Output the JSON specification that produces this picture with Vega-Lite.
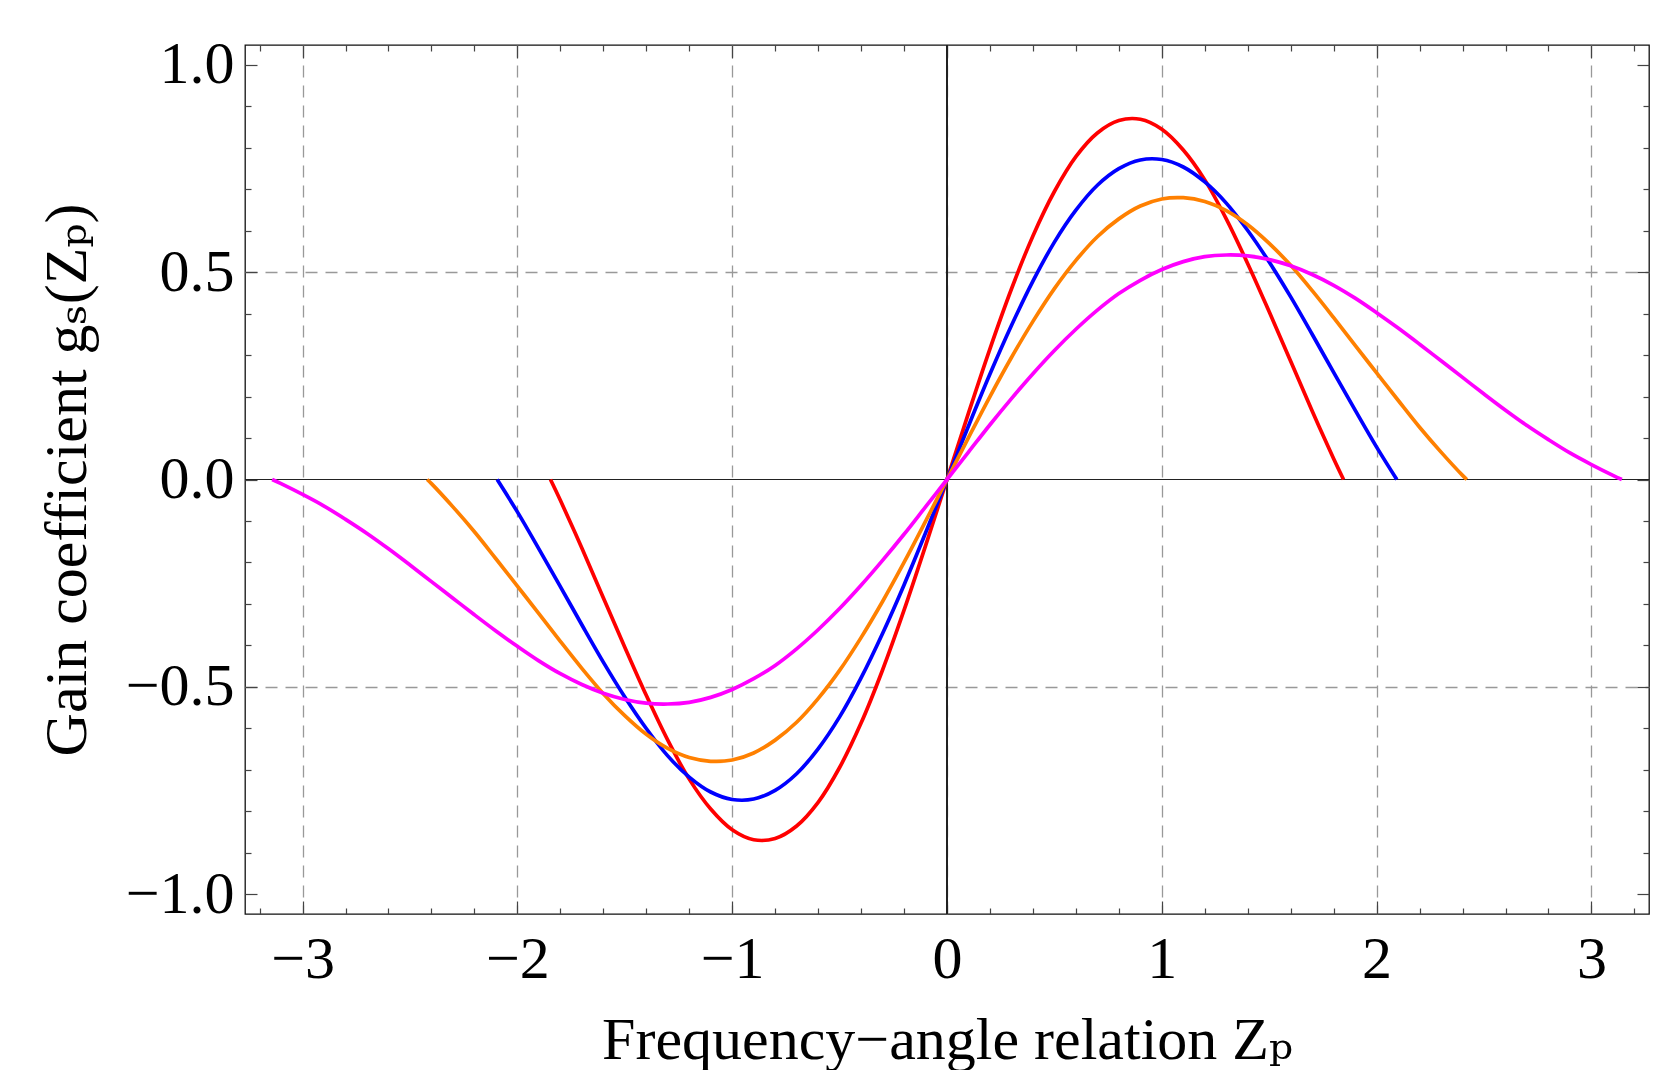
{
  "$schema": "https://vega.github.io/schema/vega-lite/v6.json",
  "width": 1404,
  "height": 869,
  "autosize": {"type": "none"},
  "padding": {"left": 245, "top": 45, "right": 9, "bottom": 156},
  "background": "white",
  "config": {
    "view": {"stroke": "#111", "strokeWidth": 1.3},
    "axis": {"domain": false, "tickColor": "#444", "tickWidth": 1.2}
  },
  "data": {
    "values": [
      {"c":"A","x":-1.846,"y":0},{"c":"A","x":-1.8,"y":-0.05},{"c":"A","x":-1.7,"y":-0.165},{"c":"A","x":-1.6,"y":-0.285},{"c":"A","x":-1.5,"y":-0.404},{"c":"A","x":-1.4,"y":-0.52},{"c":"A","x":-1.3,"y":-0.628},{"c":"A","x":-1.2,"y":-0.722},{"c":"A","x":-1.1,"y":-0.794},{"c":"A","x":-1.0,"y":-0.844},{"c":"A","x":-0.9,"y":-0.868},{"c":"A","x":-0.8,"y":-0.865},{"c":"A","x":-0.7,"y":-0.835},{"c":"A","x":-0.6,"y":-0.778},{"c":"A","x":-0.5,"y":-0.694},{"c":"A","x":-0.4,"y":-0.587},{"c":"A","x":-0.3,"y":-0.459},{"c":"A","x":-0.2,"y":-0.315},{"c":"A","x":-0.1,"y":-0.16},{"c":"A","x":0,"y":0},{"c":"A","x":0.1,"y":0.16},{"c":"A","x":0.2,"y":0.315},{"c":"A","x":0.3,"y":0.459},{"c":"A","x":0.4,"y":0.587},{"c":"A","x":0.5,"y":0.694},{"c":"A","x":0.6,"y":0.778},{"c":"A","x":0.7,"y":0.835},{"c":"A","x":0.8,"y":0.865},{"c":"A","x":0.9,"y":0.868},{"c":"A","x":1.0,"y":0.844},{"c":"A","x":1.1,"y":0.794},{"c":"A","x":1.2,"y":0.722},{"c":"A","x":1.3,"y":0.628},{"c":"A","x":1.4,"y":0.52},{"c":"A","x":1.5,"y":0.404},{"c":"A","x":1.6,"y":0.285},{"c":"A","x":1.7,"y":0.165},{"c":"A","x":1.8,"y":0.05},{"c":"A","x":1.846,"y":0},
      {"c":"B","x":-2.094,"y":0},{"c":"B","x":-2.0,"y":-0.078},{"c":"B","x":-1.9,"y":-0.167},{"c":"B","x":-1.8,"y":-0.258},{"c":"B","x":-1.7,"y":-0.35},{"c":"B","x":-1.6,"y":-0.44},{"c":"B","x":-1.5,"y":-0.524},{"c":"B","x":-1.4,"y":-0.6},{"c":"B","x":-1.3,"y":-0.666},{"c":"B","x":-1.2,"y":-0.717},{"c":"B","x":-1.1,"y":-0.753},{"c":"B","x":-1.0,"y":-0.771},{"c":"B","x":-0.9,"y":-0.77},{"c":"B","x":-0.8,"y":-0.749},{"c":"B","x":-0.7,"y":-0.709},{"c":"B","x":-0.6,"y":-0.649},{"c":"B","x":-0.5,"y":-0.572},{"c":"B","x":-0.4,"y":-0.478},{"c":"B","x":-0.3,"y":-0.371},{"c":"B","x":-0.2,"y":-0.254},{"c":"B","x":-0.1,"y":-0.129},{"c":"B","x":0,"y":0},{"c":"B","x":0.1,"y":0.129},{"c":"B","x":0.2,"y":0.254},{"c":"B","x":0.3,"y":0.371},{"c":"B","x":0.4,"y":0.478},{"c":"B","x":0.5,"y":0.572},{"c":"B","x":0.6,"y":0.649},{"c":"B","x":0.7,"y":0.709},{"c":"B","x":0.8,"y":0.749},{"c":"B","x":0.9,"y":0.77},{"c":"B","x":1.0,"y":0.771},{"c":"B","x":1.1,"y":0.753},{"c":"B","x":1.2,"y":0.717},{"c":"B","x":1.3,"y":0.666},{"c":"B","x":1.4,"y":0.6},{"c":"B","x":1.5,"y":0.524},{"c":"B","x":1.6,"y":0.44},{"c":"B","x":1.7,"y":0.35},{"c":"B","x":1.8,"y":0.258},{"c":"B","x":1.9,"y":0.167},{"c":"B","x":2.0,"y":0.078},{"c":"B","x":2.094,"y":0},
      {"c":"C","x":-2.42,"y":0},{"c":"C","x":-2.4,"y":-0.01},{"c":"C","x":-2.3,"y":-0.066},{"c":"C","x":-2.2,"y":-0.126},{"c":"C","x":-2.1,"y":-0.191},{"c":"C","x":-2.0,"y":-0.257},{"c":"C","x":-1.9,"y":-0.323},{"c":"C","x":-1.8,"y":-0.39},{"c":"C","x":-1.7,"y":-0.455},{"c":"C","x":-1.6,"y":-0.516},{"c":"C","x":-1.5,"y":-0.569},{"c":"C","x":-1.4,"y":-0.614},{"c":"C","x":-1.3,"y":-0.648},{"c":"C","x":-1.2,"y":-0.67},{"c":"C","x":-1.1,"y":-0.679},{"c":"C","x":-1.0,"y":-0.676},{"c":"C","x":-0.9,"y":-0.659},{"c":"C","x":-0.8,"y":-0.628},{"c":"C","x":-0.7,"y":-0.585},{"c":"C","x":-0.6,"y":-0.528},{"c":"C","x":-0.5,"y":-0.46},{"c":"C","x":-0.4,"y":-0.381},{"c":"C","x":-0.3,"y":-0.294},{"c":"C","x":-0.2,"y":-0.2},{"c":"C","x":-0.1,"y":-0.101},{"c":"C","x":0,"y":0},{"c":"C","x":0.1,"y":0.101},{"c":"C","x":0.2,"y":0.2},{"c":"C","x":0.3,"y":0.294},{"c":"C","x":0.4,"y":0.381},{"c":"C","x":0.5,"y":0.46},{"c":"C","x":0.6,"y":0.528},{"c":"C","x":0.7,"y":0.585},{"c":"C","x":0.8,"y":0.628},{"c":"C","x":0.9,"y":0.659},{"c":"C","x":1.0,"y":0.676},{"c":"C","x":1.1,"y":0.679},{"c":"C","x":1.2,"y":0.67},{"c":"C","x":1.3,"y":0.648},{"c":"C","x":1.4,"y":0.614},{"c":"C","x":1.5,"y":0.569},{"c":"C","x":1.6,"y":0.516},{"c":"C","x":1.7,"y":0.455},{"c":"C","x":1.8,"y":0.39},{"c":"C","x":1.9,"y":0.323},{"c":"C","x":2.0,"y":0.257},{"c":"C","x":2.1,"y":0.191},{"c":"C","x":2.2,"y":0.126},{"c":"C","x":2.3,"y":0.066},{"c":"C","x":2.4,"y":0.01},{"c":"C","x":2.42,"y":0},
      {"c":"D","x":-3.1416,"y":0},{"c":"D","x":-3.1,"y":-0.01},{"c":"D","x":-3.0,"y":-0.036},{"c":"D","x":-2.9,"y":-0.064},{"c":"D","x":-2.8,"y":-0.096},{"c":"D","x":-2.7,"y":-0.13},{"c":"D","x":-2.6,"y":-0.167},{"c":"D","x":-2.5,"y":-0.206},{"c":"D","x":-2.4,"y":-0.246},{"c":"D","x":-2.3,"y":-0.286},{"c":"D","x":-2.2,"y":-0.326},{"c":"D","x":-2.1,"y":-0.365},{"c":"D","x":-2.0,"y":-0.402},{"c":"D","x":-1.9,"y":-0.437},{"c":"D","x":-1.8,"y":-0.468},{"c":"D","x":-1.7,"y":-0.494},{"c":"D","x":-1.6,"y":-0.515},{"c":"D","x":-1.5,"y":-0.53},{"c":"D","x":-1.4,"y":-0.539},{"c":"D","x":-1.3,"y":-0.541},{"c":"D","x":-1.2,"y":-0.537},{"c":"D","x":-1.1,"y":-0.525},{"c":"D","x":-1.0,"y":-0.506},{"c":"D","x":-0.9,"y":-0.48},{"c":"D","x":-0.8,"y":-0.448},{"c":"D","x":-0.7,"y":-0.408},{"c":"D","x":-0.6,"y":-0.362},{"c":"D","x":-0.5,"y":-0.311},{"c":"D","x":-0.4,"y":-0.255},{"c":"D","x":-0.3,"y":-0.195},{"c":"D","x":-0.2,"y":-0.132},{"c":"D","x":-0.1,"y":-0.066},{"c":"D","x":0,"y":0},{"c":"D","x":0.1,"y":0.066},{"c":"D","x":0.2,"y":0.132},{"c":"D","x":0.3,"y":0.195},{"c":"D","x":0.4,"y":0.255},{"c":"D","x":0.5,"y":0.311},{"c":"D","x":0.6,"y":0.362},{"c":"D","x":0.7,"y":0.408},{"c":"D","x":0.8,"y":0.448},{"c":"D","x":0.9,"y":0.48},{"c":"D","x":1.0,"y":0.506},{"c":"D","x":1.1,"y":0.525},{"c":"D","x":1.2,"y":0.537},{"c":"D","x":1.3,"y":0.541},{"c":"D","x":1.4,"y":0.539},{"c":"D","x":1.5,"y":0.53},{"c":"D","x":1.6,"y":0.515},{"c":"D","x":1.7,"y":0.494},{"c":"D","x":1.8,"y":0.468},{"c":"D","x":1.9,"y":0.437},{"c":"D","x":2.0,"y":0.402},{"c":"D","x":2.1,"y":0.365},{"c":"D","x":2.2,"y":0.326},{"c":"D","x":2.3,"y":0.286},{"c":"D","x":2.4,"y":0.246},{"c":"D","x":2.5,"y":0.206},{"c":"D","x":2.6,"y":0.167},{"c":"D","x":2.7,"y":0.13},{"c":"D","x":2.8,"y":0.096},{"c":"D","x":2.9,"y":0.064},{"c":"D","x":3.0,"y":0.036},{"c":"D","x":3.1,"y":0.01},{"c":"D","x":3.1416,"y":0}
    ]
  },
  "resolve": {"axis": {"x": "independent", "y": "independent"}},
  "layer": [
    {
      "mark": {"type": "rule", "color": "#222", "strokeWidth": 1.2},
      "encoding": {
        "x": {"datum": 0, "type": "quantitative",
          "scale": {"domain": [-3.268, 3.268], "nice": false, "zero": false},
          "axis": {"orient": "top", "values": [-3, -2, -1, 0, 1, 2, 3], "labels": false, "grid": false, "title": null, "tickSize": -13}}
      }
    },
    {
      "mark": {"type": "rule", "color": "#222", "strokeWidth": 1.2},
      "encoding": {
        "y": {"datum": 0, "type": "quantitative",
          "scale": {"domain": [-1.047, 1.047], "nice": false, "zero": false},
          "axis": {"orient": "right", "values": [-1, -0.5, 0, 0.5, 1], "labels": false, "grid": false, "title": null, "tickSize": -12}}
      }
    },
    {
      "mark": {"type": "point", "opacity": 0},
      "encoding": {
        "x": {"datum": 0, "type": "quantitative",
          "scale": {"domain": [-3.268, 3.268], "nice": false, "zero": false},
          "axis": {"orient": "bottom", "values": [-3, -2, -1, 0, 1, 2, 3], "labels": false, "grid": false, "title": null, "tickSize": -13}},
        "y": {"datum": 0, "type": "quantitative",
          "scale": {"domain": [-1.047, 1.047], "nice": false, "zero": false},
          "axis": {"orient": "left", "values": [-1, -0.5, 0, 0.5, 1], "labels": false, "grid": false, "title": null, "tickSize": -12}}
      }
    },
    {
      "mark": {"type": "point", "opacity": 0},
      "encoding": {
        "x": {"datum": 0, "type": "quantitative",
          "scale": {"domain": [-3.268, 3.268], "nice": false, "zero": false},
          "axis": {"orient": "bottom", "values": [-3.2, -2.8, -2.6, -2.4, -2.2, -1.8, -1.6, -1.4, -1.2, -0.8, -0.6, -0.4, -0.2, 0.2, 0.4, 0.6, 0.8, 1.2, 1.4, 1.6, 1.8, 2.2, 2.4, 2.6, 2.8, 3.2], "labels": false, "grid": false, "title": null, "tickSize": -6}},
        "y": {"datum": 0, "type": "quantitative",
          "scale": {"domain": [-1.047, 1.047], "nice": false, "zero": false},
          "axis": {"orient": "left", "values": [-0.9, -0.8, -0.7, -0.6, -0.4, -0.3, -0.2, -0.1, 0.1, 0.2, 0.3, 0.4, 0.6, 0.7, 0.8, 0.9], "labels": false, "grid": false, "title": null, "tickSize": -6}}
      }
    },
    {
      "mark": {"type": "point", "opacity": 0},
      "encoding": {
        "x": {"datum": 0, "type": "quantitative",
          "scale": {"domain": [-3.268, 3.268], "nice": false, "zero": false},
          "axis": {"orient": "top", "values": [-3.2, -2.8, -2.6, -2.4, -2.2, -1.8, -1.6, -1.4, -1.2, -0.8, -0.6, -0.4, -0.2, 0.2, 0.4, 0.6, 0.8, 1.2, 1.4, 1.6, 1.8, 2.2, 2.4, 2.6, 2.8, 3.2], "labels": false, "grid": false, "title": null, "tickSize": -6}},
        "y": {"datum": 0, "type": "quantitative",
          "scale": {"domain": [-1.047, 1.047], "nice": false, "zero": false},
          "axis": {"orient": "right", "values": [-0.9, -0.8, -0.7, -0.6, -0.4, -0.3, -0.2, -0.1, 0.1, 0.2, 0.3, 0.4, 0.6, 0.7, 0.8, 0.9], "labels": false, "grid": false, "title": null, "tickSize": -6}}
      }
    },
    {
      "mark": {"type": "point", "opacity": 0},
      "encoding": {
        "y": {"datum": 0, "type": "quantitative",
          "scale": {"domain": [-1.047, 1.047], "nice": false, "zero": false},
          "axis": {"orient": "left", "values": [-0.5, 0.5], "labels": false, "ticks": false, "grid": true, "gridDash": [12, 8], "gridColor": "#999", "gridWidth": 1.3, "title": null}}
      }
    },
    {
      "mark": {"type": "line", "strokeWidth": 3.7, "interpolate": "catmull-rom"},
      "encoding": {
        "x": {"field": "x", "type": "quantitative",
          "scale": {"domain": [-3.268, 3.268], "nice": false, "zero": false},
          "axis": {"orient": "bottom", "values": [-3, -2, -1, 0, 1, 2, 3], "format": "d", "ticks": false,
            "labelFont": "Liberation Serif, DejaVu Serif, serif", "labelFontSize": 60, "labelColor": "#000", "labelPadding": 16, "labelFlush": false, "labelOverlap": false,
            "grid": true, "gridDash": [12, 8], "gridColor": "#999", "gridWidth": 1.3,
            "title": "Frequency−angle relation Zₚ", "titleFont": "Liberation Serif, DejaVu Serif, serif", "titleFontSize": 60, "titleFontWeight": "normal", "titleColor": "#000", "titlePadding": 22}},
        "y": {"field": "y", "type": "quantitative",
          "scale": {"domain": [-1.047, 1.047], "nice": false, "zero": false},
          "axis": {"orient": "left", "values": [-1, -0.5, 0, 0.5, 1], "format": ".1f", "ticks": false,
            "labelFont": "Liberation Serif, DejaVu Serif, serif", "labelFontSize": 60, "labelColor": "#000", "labelPadding": 11, "labelFlush": false, "labelOverlap": false,
            "grid": false,
            "title": "Gain coefficient gₛ(Zₚ)", "titleFont": "Liberation Serif, DejaVu Serif, serif", "titleFontSize": 60, "titleFontWeight": "normal", "titleColor": "#000", "titlePadding": 27}},
        "color": {"field": "c", "type": "nominal",
          "scale": {"domain": ["A", "B", "C", "D"], "range": ["#FF0000", "#0000FF", "#FF8000", "#FF00FF"]},
          "legend": null},
        "detail": {"field": "c"}
      }
    }
  ]
}
